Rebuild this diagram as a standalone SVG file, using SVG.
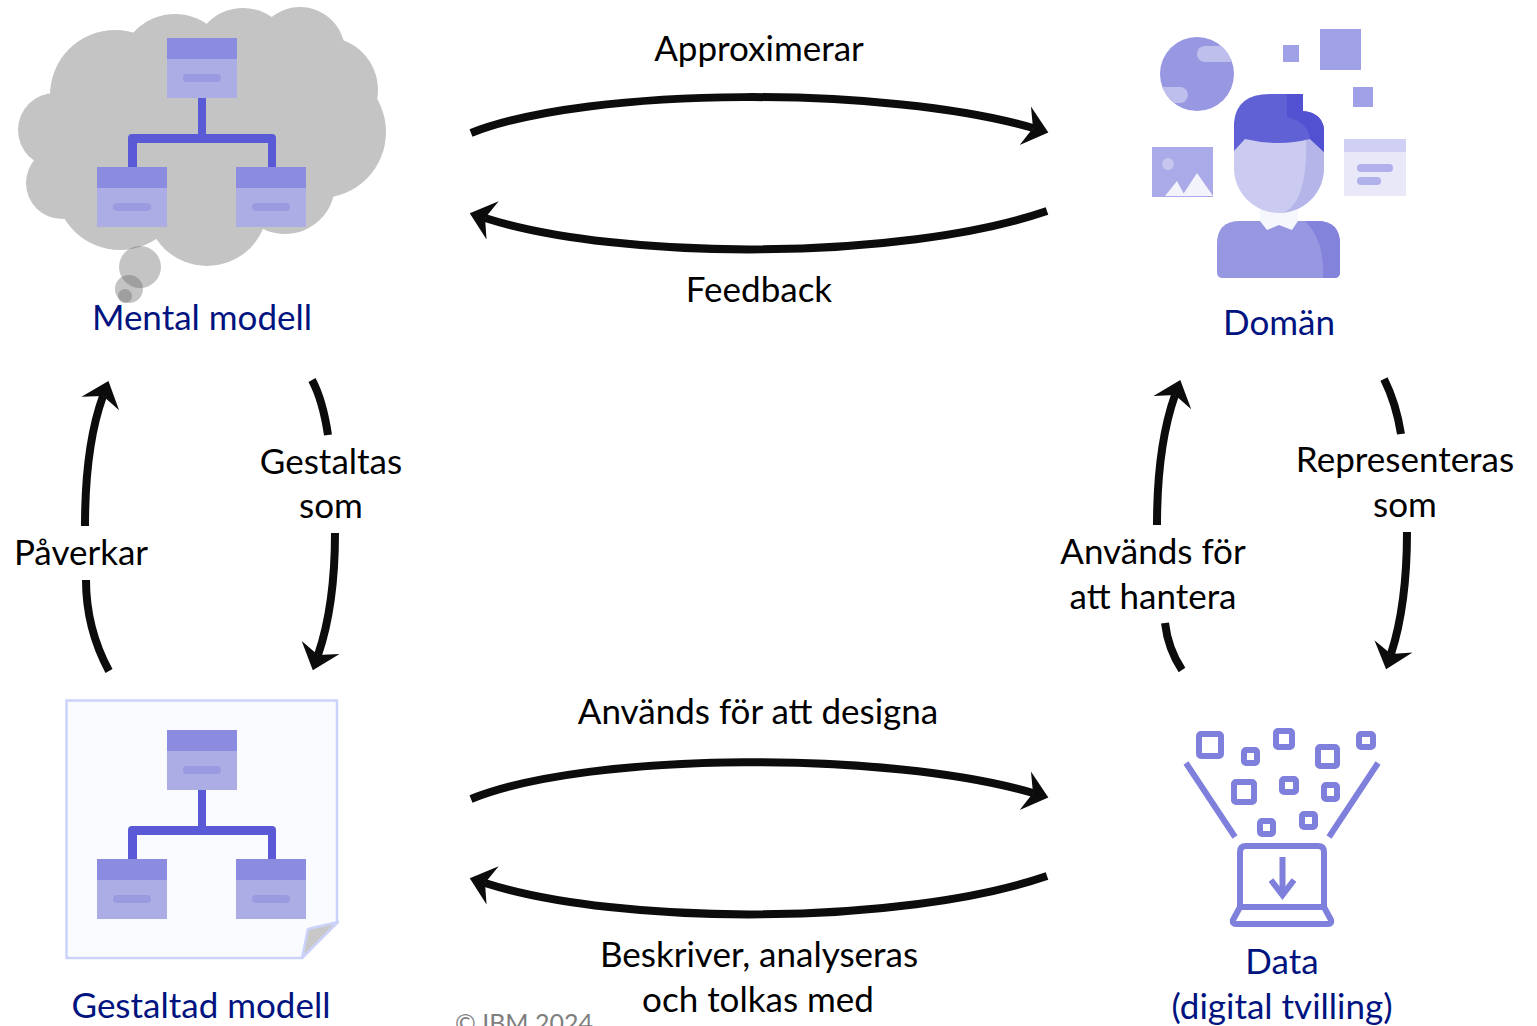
<svg xmlns="http://www.w3.org/2000/svg" xmlns:xlink="http://www.w3.org/1999/xlink" width="1537" height="1026" viewBox="0 0 1537 1026">
<style>
text{font-family:"Lato","Carlito","Open Sans",sans-serif;font-size:35px;fill:#000;text-anchor:middle}
.t{fill:#00137f}
.arc{fill:none;stroke:#0c0c0c;stroke-width:8}
.cl{fill:#c4c4c4}
.hd{fill:#8b8bdf}.bd{fill:#adade6}.br{fill:#9a9ae0}.cn{fill:#5a5ad6}
.ds{fill:none;stroke:#7f7fdc;stroke-width:6;stroke-linejoin:round}
.dl{fill:none;stroke:#7f7fdc;stroke-width:6}
</style>
<defs>
<marker id="ah" markerUnits="userSpaceOnUse" markerWidth="40" markerHeight="44" refX="8" refY="20" orient="auto" viewBox="0 0 40 40"><path d="M0 0L24 20L0 40L8 20Z" fill="#0c0c0c"/></marker>
<g id="tree">
<rect class="cn" x="198" y="98" width="8" height="38"/>
<path class="cn" d="M128 167V138q0-4 4-4H272q4 0 4 4V167H268V143H137V167Z"/>
<g id="box"><rect class="bd" x="167" y="38" width="70" height="60"/><rect class="hd" x="167" y="38" width="70" height="21"/><rect class="br" x="183" y="74" width="38" height="8" rx="4"/></g>
<use xlink:href="#box" href="#box" x="-70" y="129"/>
<use xlink:href="#box" href="#box" x="69" y="129"/>
</g>
<clipPath id="globe"><circle cx="1197" cy="74" r="37"/></clipPath>
</defs>
<rect width="1537" height="1026" fill="#fff"/>
<g id="mental-modell">
<g class="cl">
<circle cx="115" cy="95" r="65"/><circle cx="175" cy="70" r="56"/><circle cx="243" cy="58" r="50"/><circle cx="300" cy="52" r="45"/><circle cx="325" cy="90" r="53"/><circle cx="320" cy="132" r="66"/><circle cx="285" cy="184" r="50"/><circle cx="207" cy="205" r="61"/><circle cx="120" cy="185" r="65"/><circle cx="62" cy="183" r="36"/><circle cx="55" cy="130" r="37"/><rect x="60" y="70" width="270" height="120"/>
</g>
<g fill="#646464"><circle cx="140" cy="267" r="21" fill-opacity=".38"/><circle cx="129" cy="289" r="14" fill-opacity=".38"/><circle cx="125" cy="296" r="7" fill-opacity=".38"/></g>
<use xlink:href="#tree" href="#tree"/>
<text class="t" x="202" y="330">Mental modell</text>
</g>
<g id="doman">
<circle cx="1197" cy="74" r="37" fill="#9797e2"/>
<g clip-path="url(#globe)" fill="#bfbfee"><rect x="1197" y="46" width="50" height="16" rx="8"/><rect x="1140" y="87" width="48" height="16" rx="8"/></g>
<g fill="#a0a0e6"><rect x="1283" y="45" width="16" height="17"/><rect x="1320" y="29" width="41" height="41"/><rect x="1353" y="87" width="20" height="20"/></g>
<rect x="1152" y="147" width="61" height="50" fill="#abaae8"/><circle cx="1168" cy="164" r="6" fill="#c6c6f0"/>
<path d="M1165 196L1177 181L1185 196ZM1182 196L1197 173L1213 196Z" fill="#f3f3fc"/>
<rect x="1344" y="139" width="62" height="57" fill="#e8e8f9"/><rect x="1344" y="139" width="62" height="13" fill="#d0d0f4"/>
<rect x="1357" y="164" width="36" height="8" rx="4" fill="#b0b0ea"/><rect x="1357" y="177" width="24" height="8" rx="4" fill="#b0b0ea"/>
<rect x="1260" y="205" width="38" height="22" fill="#f6f6fd"/>
<path d="M1240 221H1317Q1340 221 1340 244V272Q1340 278 1334 278H1223Q1217 278 1217 272V244Q1217 221 1240 221Z" fill="#9696e1"/>
<path d="M1305 221H1317Q1340 221 1340 244V272Q1340 278 1334 278H1323Q1325 240 1305 221Z" fill="#8383dc"/>
<path d="M1260 221L1267 230L1279 225L1292 230L1298 221Z" fill="#f6f6fd"/>
<path d="M1234 125V168A45 45 0 0 0 1324 168V125Z" fill="#cbcbf1"/>
<path d="M1305 125H1324V168A45 45 0 0 1 1279 213C1300 212 1310 175 1305 125Z" fill="#b5b5ea"/>
<path d="M1234 151V123Q1236 94 1270 94H1303V111Q1324 113 1324 132V152L1310 139Q1279 147 1245 139Z" fill="#6161d6"/>
<path d="M1287 94H1303V111Q1324 113 1324 132V152L1310 139Q1308 122 1287 117Z" fill="#5151d2"/>
<text class="t" x="1279" y="335">Domän</text>
</g>
<g id="gestaltad-modell">
<path d="M66.500 700.500H337V922L302 958H66.500Z" fill="#fafbff" stroke="#ccd3fb" stroke-width="2.500"/>
<path d="M308 929L338 922L302 958Z" fill="#c8c8c8" stroke="#ccd3fb" stroke-width="2.500" stroke-linejoin="round"/>
<use xlink:href="#tree" href="#tree" y="692"/>
<text class="t" x="201" y="1018">Gestaltad modell</text>
</g>
<g id="data">
<rect class="ds" x="1199" y="734" width="22" height="22" rx="2"/><rect class="ds" x="1244" y="750" width="13" height="13" rx="2"/><rect class="ds" x="1276" y="731" width="16" height="16" rx="2"/><rect class="ds" x="1318" y="747" width="19" height="19" rx="2"/><rect class="ds" x="1359" y="734" width="14" height="13" rx="2"/><rect class="ds" x="1234" y="782" width="20" height="20" rx="2"/><rect class="ds" x="1282" y="779" width="14" height="13" rx="2"/><rect class="ds" x="1324" y="785" width="13" height="14" rx="2"/><rect class="ds" x="1260" y="821" width="13" height="13" rx="2"/><rect class="ds" x="1302" y="814" width="13" height="13" rx="2"/>
<path class="dl" d="M1186 763L1235 837M1378 763L1329 837"/>
<path class="ds" d="M1240 907V852Q1240 846 1246 846H1318Q1324 846 1324 852V907H1240L1233 920Q1232 924 1236 924H1328Q1332 924 1331 920L1324 907"/>
<path class="dl" d="M1282.500 857V892"/><path d="M1271 880L1282.500 895L1294 880" fill="none" stroke="#7f7fdc" stroke-width="6"/>
<text class="t" x="1282" y="974">Data</text>
<text class="t" x="1282" y="1019">(digital tvilling)</text>
</g>
<g id="connectors">
<path class="arc" marker-end="url(#ah)" d="M471 133C590 86 890 86 1033 128"/>
<path class="arc" marker-end="url(#ah)" d="M1047 211C900 261 620 261 485 218"/>
<path class="arc" marker-end="url(#ah)" d="M471 799C590 751 890 751 1033 793"/>
<path class="arc" marker-end="url(#ah)" d="M1047 876C900 926 620 926 485 883"/>
<path class="arc" d="M109 671C95 645 86 615 86 580"/>
<path class="arc" marker-end="url(#ah)" d="M85 526C85 480 90 432 103 396"/>
<path class="arc" d="M312 380C320 395 325 415 328 435"/>
<path class="arc" marker-end="url(#ah)" d="M335 533C335 580 330 620 318 655"/>
<path class="arc" d="M1182 670C1172 655 1167 640 1165 623"/>
<path class="arc" marker-end="url(#ah)" d="M1157 525C1157 480 1162 432 1175 395"/>
<path class="arc" d="M1384 379C1392 395 1398 415 1401 434"/>
<path class="arc" marker-end="url(#ah)" d="M1407 532C1407 580 1402 620 1391 654"/>
</g>
<g id="labels">
<text x="759" y="61">Approximerar</text>
<text x="759" y="302">Feedback</text>
<text x="331" y="474">Gestaltas</text><text x="331" y="518">som</text>
<text x="81" y="565">Påverkar</text>
<text x="1405" y="472">Representeras</text><text x="1405" y="517">som</text>
<text x="1153" y="564">Används för</text><text x="1153" y="609">att hantera</text>
<text x="758" y="724">Används för att designa</text>
<text x="759" y="967">Beskriver, analyseras</text><text x="758" y="1012">och tolkas med</text>
<text x="524" y="1032" style="font-size:25px;fill:#7f7f7f">© IBM 2024</text>
</g>
</svg>
